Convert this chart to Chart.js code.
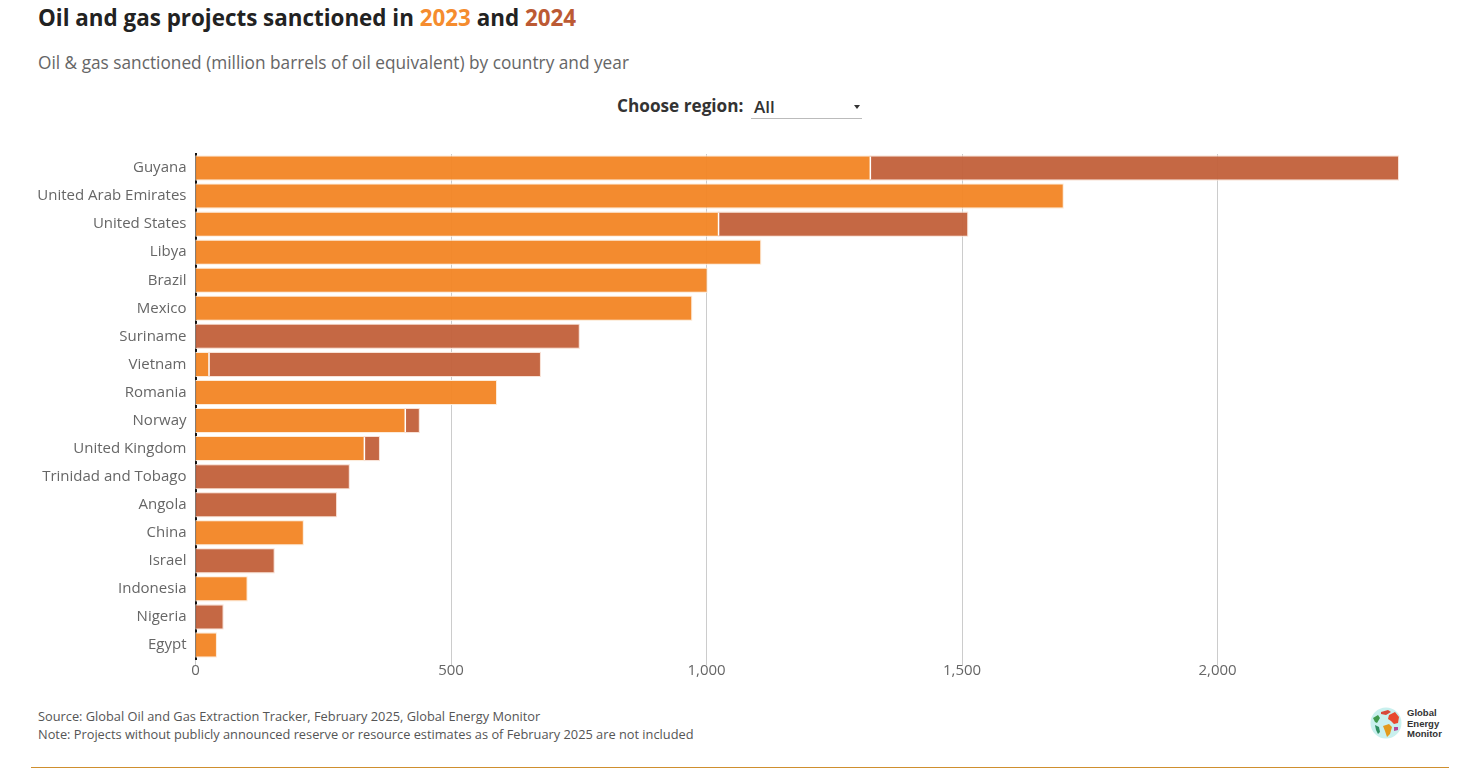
<!DOCTYPE html>
<html><head><meta charset="utf-8">
<script src="https://cdn.jsdelivr.net/npm/chart.js@4"></script>
<style>
html,body{margin:0;padding:0;background:#fff;width:1479px;height:783px;overflow:hidden;font-family:"Open Sans",sans-serif}
.t{position:absolute;white-space:nowrap}
#title{left:38px;top:2px;font-size:22.4px;font-weight:700;color:#222;line-height:32px}
#sub{left:38px;top:51px;font-size:17.25px;color:#666;line-height:24px}
#lab{left:617px;top:94px;font-size:17.2px;font-weight:700;color:#333;line-height:24px}
#sel{left:751px;top:95px;width:111px;height:23px;border-bottom:1px solid #bbb;font-size:17px;font-weight:600;color:#333;line-height:24px;text-indent:3px}
#sel i{position:absolute;right:2px;top:10px;width:0;height:0;border:3.5px solid transparent;border-top:4px solid #333;border-bottom:0}
#src{left:38px;top:707px;font-size:12.8px;color:#555;line-height:18px}
#rule{position:absolute;left:31px;top:767px;width:1418px;height:1px;background:#cf8f2e}
#wrap{position:absolute;left:0;top:136px;width:1479px;height:553px}
#logoT{left:1407px;top:708px;font:700 9.5px/10.5px "Liberation Sans",sans-serif;color:#333}
#logo{position:absolute;left:1370px;top:706px;filter:blur(.5px)}
</style></head><body>
<div class="t" id="title">Oil and gas projects sanctioned in <span style="color:#f58c2e">2023</span> and <span style="color:#bc5a34">2024</span></div>
<div class="t" id="sub">Oil &amp; gas sanctioned (million barrels of oil equivalent) by country and year</div>
<div class="t" id="lab">Choose region:</div>
<div class="t" id="sel">All<i></i></div>
<div id="wrap"><canvas id="c" width="1479" height="553"></canvas></div>
<div class="t" id="src">Source: Global Oil and Gas Extraction Tracker, February 2025, Global Energy Monitor<br>Note: Projects without publicly announced reserve or resource estimates as of February 2025 are not included</div>
<svg id="logo" width="32" height="34" viewBox="0 0 32 34">
<circle cx="16" cy="17" r="15.5" fill="#c9f0ee"/>
<path d="M19 9l6-3 4 5-1 6-4 1-3-3-3-2z" fill="#e8492e"/>
<path d="M11 6l7-2 3 2-5 3-5-1z" fill="#d8483a"/>
<path d="M3 12l5-3 2 3-3 5-2-1z" fill="#3f9a4c"/>
<path d="M5 19l4 2 1 5-2 2-2-4z" fill="#2f8f62"/>
<path d="M13 20l6-2 3 3-2 7-3 3-2-6z" fill="#e39a1c"/>
<path d="M24 21l4 0 0 3-4 1z" fill="#b6479a"/>
</svg>
<div class="t" id="logoT">Global<br>Energy<br>Monitor</div>
<div id="rule"></div>
<script>
const categories=["Guyana","United Arab Emirates","United States","Libya","Brazil","Mexico","Suriname","Vietnam","Romania","Norway","United Kingdom","Trinidad and Tobago","Angola","China","Israel","Indonesia","Nigeria","Egypt"];
const values2023=[1320,1697,1023,1105,1000,970,0,26,588,410,330,0,0,210,0,100,0,40];
const values2024=[1033,0,487,0,0,0,750,648,0,27,29,300,275,0,153,0,53,0];
const xTicks=[0,500,1000,1500,2000];
const xMax=2353;
const ctx=document.getElementById('c');
new Chart(ctx,{type:'bar',
 data:{labels:categories,datasets:[
  {label:'2023',data:values2023,backgroundColor:'rgba(242,133,36,.95)',borderWidth:0,barPercentage:.82,categoryPercentage:1},
  {label:'2024',data:values2024,backgroundColor:'rgba(194,96,58,.95)',borderWidth:0,barPercentage:.82,categoryPercentage:1}
 ]},
 plugins:[{id:'edges',
  beforeDatasetsDraw(ch){
   const g=ch.ctx;g.save();g.lineWidth=1;
   [0,1].forEach(d=>ch.getDatasetMeta(d).data.forEach((b,i)=>{
     const v=(d?values2024:values2023)[i];if(!v)return;
     const l=Math.min(b.x,b.base),r=Math.max(b.x,b.base);
     g.strokeStyle=d?'#f8e0d4':'#fdebd8';
     g.strokeRect(l,b.y-b.height/2-.5,r-l+.5,b.height+1);
   }));g.restore();
  },
  afterDatasetsDraw(ch){
   const g=ch.ctx,m0=ch.getDatasetMeta(0);
   g.save();g.fillStyle='#fff';
   values2023.forEach((v,i)=>{if(v>0&&values2024[i]>0){const b=m0.data[i];g.fillRect(b.x-.5,b.y-b.height/2,1.5,b.height);}});
   g.restore();
  }}],
 options:{responsive:false,animation:false,indexAxis:'y',
  layout:{padding:{left:0,right:81,top:0,bottom:0}},
  plugins:{legend:{display:false},tooltip:{enabled:false}},
  scales:{
   x:{stacked:true,min:0,max:xMax,position:'bottom',afterFit(s){s.height=30;},
      afterBuildTicks(s){s.ticks=xTicks.map(v=>({value:v}));},
      grid:{color:'#ccc',lineWidth:1,drawTicks:true,tickLength:6,tickColor:'#ccc',drawOnChartArea:true},
      border:{display:false},
      ticks:{color:'#666',font:{family:'"Open Sans"',size:15},padding:-3,maxRotation:0,callback:v=>v.toLocaleString('en-US')}},
   y:{stacked:true,position:'left',afterFit(s){s.width=195.5;},
      grid:{display:false,drawTicks:false},
      border:{display:true,color:'#111',width:2},
      ticks:{color:'#666',font:{family:'"Open Sans"',size:15},padding:9,autoSkip:false}}
  }}});
</script></body></html>
